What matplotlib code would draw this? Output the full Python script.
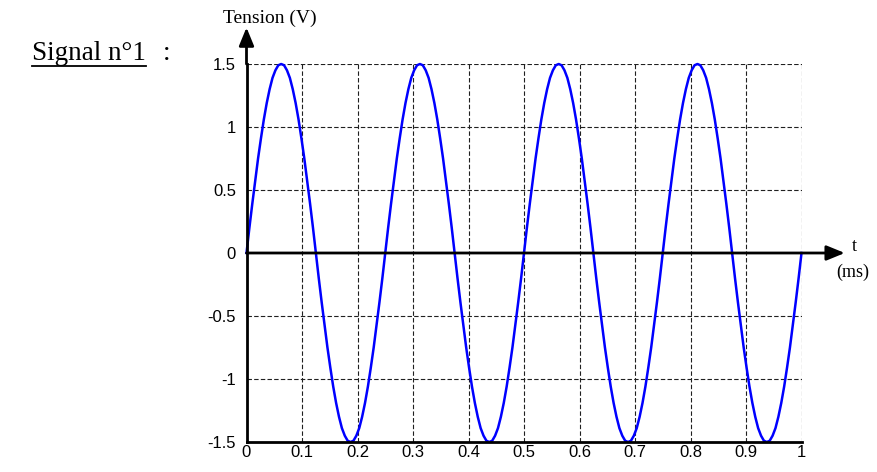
import matplotlib
matplotlib.use("Agg")
import matplotlib.pyplot as plt
import numpy as np

# ---- data ----
t_start_ms = 0.0
t_end_ms = 1.0
# voltage readings (V) over one period, one every 1/192 ms
one_period_v = [
    0, 0.20, 0.39, 0.57, 0.75, 0.91, 1.06, 1.19, 1.30, 1.39, 1.45, 1.49,
    1.5, 1.49, 1.45, 1.39, 1.30, 1.19, 1.06, 0.91, 0.75, 0.57, 0.39, 0.20,
    0, -0.20, -0.39, -0.57, -0.75, -0.91, -1.06, -1.19, -1.30, -1.39, -1.45, -1.49,
    -1.5, -1.49, -1.45, -1.39, -1.30, -1.19, -1.06, -0.91, -0.75, -0.57, -0.39, -0.20,
]
n_periods = 4
tension_v = one_period_v * n_periods + [0]

x_ticks = [0, 0.1, 0.2, 0.3, 0.4, 0.5, 0.6, 0.7, 0.8, 0.9, 1]
x_tick_labels = ["0", "0.1", "0.2", "0.3", "0.4", "0.5", "0.6", "0.7", "0.8", "0.9", "1"]
y_ticks = [-1.5, -1, -0.5, 0, 0.5, 1, 1.5]
y_tick_labels = ["-1.5", "-1", "-0.5", "0", "0.5", "1", "1.5"]

t_ms = np.linspace(t_start_ms, t_end_ms, len(tension_v))

W, H = 877, 472
fig = plt.figure(figsize=(W / 100, H / 100), dpi=100)
ax = fig.add_axes([246.5 / W, (H - 442) / H, 555 / W, 378 / H])

ax.set_xlim(0, 1)
ax.set_ylim(-1.5, 1.5)

# grid
for xv in x_ticks[1:]:
    ax.axvline(xv, color="#202020", lw=0.8, ls=(0, (4, 2)), zorder=1)
for yv in y_ticks[1:]:
    if yv == 0:
        continue
    ax.axhline(yv, color="#202020", lw=0.8, ls=(0, (4, 2)), zorder=1)

ax.plot(t_ms, tension_v, color="#0000ff", lw=1.8, zorder=3, clip_on=False,
        solid_joinstyle="round")

for s in ["top", "right"]:
    ax.spines[s].set_visible(False)
ax.spines["left"].set_linewidth(2.0)
ax.spines["bottom"].set_linewidth(2.0)
ax.spines["left"].set_zorder(4)
ax.spines["bottom"].set_zorder(4)

ax.set_xticks(x_ticks)
ax.set_xticklabels(x_tick_labels)
ax.set_yticks(y_ticks)
ax.set_yticklabels(y_tick_labels)
ax.tick_params(axis="both", length=0, labelsize=12)
ax.tick_params(axis="y", pad=7.5)
ax.tick_params(axis="x", pad=2)
for lab in ax.get_xticklabels() + ax.get_yticklabels():
    lab.set_fontfamily("Liberation Sans")

# zero axis with arrow
ax.annotate("", xy=(1.078, 0), xytext=(0, 0), xycoords="data",
            arrowprops=dict(arrowstyle="-|>,head_length=1.1,head_width=0.45",
                            color="black", lw=2.0, shrinkA=0, shrinkB=0),
            annotation_clip=False, zorder=5)
# y axis arrow
ax.annotate("", xy=(0, 1.79), xytext=(0, 1.5), xycoords="data",
            arrowprops=dict(arrowstyle="-|>,head_length=1.1,head_width=0.45",
                            color="black", lw=2.0, shrinkA=0, shrinkB=0),
            annotation_clip=False, zorder=5)

fig.text(270 / W, 1 - 18.5 / H, "Tension (V)", fontsize=14, family="Liberation Serif",
         ha="center", va="center")
fig.text(854 / W, 1 - 246 / H, "t", fontsize=13, family="Liberation Serif",
         ha="center", va="center")
fig.text(853 / W, 1 - 272 / H, "(ms)", fontsize=13, family="Liberation Serif",
         ha="center", va="center")

txt = fig.text(32 / W, 1 - 60 / H, "Signal n°1", fontsize=19.5, family="Liberation Serif",
               ha="left", va="baseline")
fig.canvas.draw()
bb = txt.get_window_extent()
fig.text((bb.x1 + 17) / W, 1 - 60 / H, ":", fontsize=19.5, family="Liberation Serif",
         ha="left", va="baseline")
uy = (H - 66) / H
fig.add_artist(plt.Line2D([bb.x0 / W, bb.x1 / W], [uy, uy], color="black", lw=1.3,
                          transform=fig.transFigure))

fig.savefig("out.png", dpi=100)
